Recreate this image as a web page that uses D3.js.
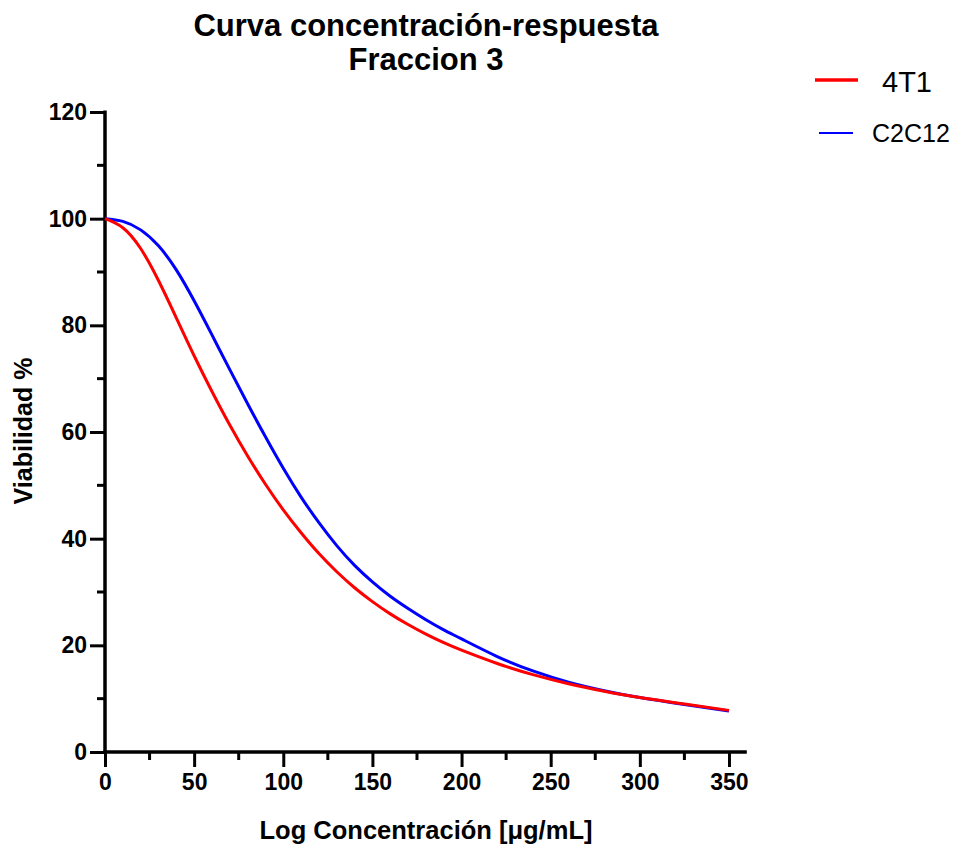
<!DOCTYPE html>
<html>
<head>
<meta charset="utf-8">
<script src="https://cdn.jsdelivr.net/npm/d3@7"></script>
<style>
  html, body { margin: 0; padding: 0; background: #fff; }
  svg { display: block; font-family: "Liberation Sans", Arial, Helvetica, sans-serif; }
</style>
</head>
<body>
<svg id="chart" width="961" height="848"></svg>
<script>
// Concentration values (x) and viability (%) for each cell line
const conc4T1 = [0, 10, 20, 30, 40, 50, 60, 70, 80, 90, 100, 110, 120, 130, 140, 150, 160, 170, 180, 190, 200, 220, 240, 260, 280, 300, 325, 350];
const viab4T1 = [100, 98.3, 94.4, 88.4, 81.4, 74.3, 67.6, 61.3, 55.5, 50.2, 45.4, 41.1, 37.2, 33.8, 30.8, 28.2, 25.9, 23.9, 22.1, 20.5, 19.1, 16.6, 14.5, 12.8, 11.4, 10.2, 9.0, 7.8];

const concC2C12 = [0, 10, 20, 30, 40, 50, 60, 70, 80, 90, 100, 110, 120, 130, 140, 150, 160, 170, 180, 190, 200, 220, 240, 260, 280, 300, 325, 350];
const viabC2C12 = [100, 99.5, 97.9, 94.9, 90.4, 84.6, 78.2, 71.7, 65.3, 59.1, 53.2, 47.8, 43.0, 38.7, 35.0, 31.9, 29.2, 26.9, 24.8, 22.9, 21.2, 17.9, 15.2, 13.1, 11.5, 10.2, 8.9, 7.7];

const seriesNames = ["4T1", "C2C12"];
const seriesColors = ["#ff0000", "#0000ff"];

const xTicks = [0, 50, 100, 150, 200, 250, 300, 350];
const xMinorTicks = [25, 75, 125, 175, 225, 275, 325];
const yTicks = [0, 20, 40, 60, 80, 100, 120];
const yMinorTicks = [10, 30, 50, 70, 90, 110];

const titleLines = ["Curva concentración-respuesta", "Fraccion 3"];
const xLabel = "Log Concentración [μg/mL]";
const yLabel = "Viabilidad %";

const svg = d3.select("#chart");

const x = d3.scaleLinear().domain([0, 360]).range([105, 746.8]);
const y = d3.scaleLinear().domain([0, 120]).range([752, 112]);

// Title
svg.append("g").selectAll("text")
  .data(titleLines)
  .join("text")
  .attr("x", 426)
  .attr("y", (d, i) => 36 + i * 34)
  .attr("text-anchor", "middle")
  .attr("font-weight", "bold")
  .attr("font-size", 31)
  .attr("fill", "#000")
  .text(d => d);

// Y axis
const yAxis = d3.axisLeft(y).tickValues(yTicks).tickSize(15).tickPadding(3).tickFormat(d3.format("d"));
const gy = svg.append("g").attr("transform", `translate(${x(0)},0)`).call(yAxis);
gy.select(".domain").attr("stroke", "#000").attr("stroke-width", 3.5)
  .attr("d", `M0,${y(120) - 1.5}V${y(0) + 1.5}`);
gy.selectAll(".tick line").attr("stroke", "#000").attr("stroke-width", 3);
gy.selectAll(".tick text").attr("font-size", 23).attr("font-weight", "bold").attr("fill", "#000")
  .attr("font-family", "'Liberation Sans', Arial, sans-serif");
svg.append("g").selectAll("line")
  .data(yMinorTicks)
  .join("line")
  .attr("x1", x(0) - 8).attr("x2", x(0))
  .attr("y1", d => y(d)).attr("y2", d => y(d))
  .attr("stroke", "#000").attr("stroke-width", 3);

// X axis
const xAxis = d3.axisBottom(x).tickValues(xTicks).tickSize(15).tickPadding(7).tickFormat(d3.format("d"));
const gx = svg.append("g").attr("transform", `translate(0,${y(0)})`).call(xAxis);
gx.select(".domain").attr("stroke", "#000").attr("stroke-width", 3.5)
  .attr("d", `M${x(0) - 1.5},0H${x(360)}`);
gx.selectAll(".tick line").attr("stroke", "#000").attr("stroke-width", 3);
gx.selectAll(".tick text").attr("font-size", 23).attr("font-weight", "bold").attr("fill", "#000")
  .attr("font-family", "'Liberation Sans', Arial, sans-serif");
svg.append("g").selectAll("line")
  .data(xMinorTicks)
  .join("line")
  .attr("x1", d => x(d)).attr("x2", d => x(d))
  .attr("y1", y(0)).attr("y2", y(0) + 8)
  .attr("stroke", "#000").attr("stroke-width", 3);

// Axis titles
svg.append("text")
  .attr("x", 426).attr("y", 839)
  .attr("text-anchor", "middle")
  .attr("font-weight", "bold").attr("font-size", 25.5)
  .text(xLabel);

svg.append("text")
  .attr("transform", "translate(32,431) rotate(-90)")
  .attr("text-anchor", "middle")
  .attr("font-weight", "bold").attr("font-size", 25)
  .text(yLabel);

// Fitted curves (smooth spline through the tabulated points)
const line = d3.line()
  .x(d => x(d[0]))
  .y(d => y(d[1]))
  .curve(d3.curveNatural);

const curves = [
  { name: seriesNames[1], color: seriesColors[1], pts: d3.zip(concC2C12, viabC2C12) },
  { name: seriesNames[0], color: seriesColors[0], pts: d3.zip(conc4T1, viab4T1) }
];

svg.append("g").selectAll("path")
  .data(curves)
  .join("path")
  .attr("fill", "none")
  .attr("stroke", d => d.color)
  .attr("stroke-width", 3)
  .attr("d", d => line(d.pts));

// Legend
const legend = [
  { name: seriesNames[0], color: seriesColors[0], x1: 815, x2: 858, y: 80, sw: 3.5, tx: 882, ty: 92, fs: 29 },
  { name: seriesNames[1], color: seriesColors[1], x1: 819, x2: 853, y: 133, sw: 2.2, tx: 872, ty: 142, fs: 25 }
];
const lg = svg.append("g").selectAll("g").data(legend).join("g");
lg.append("line")
  .attr("x1", d => d.x1).attr("x2", d => d.x2)
  .attr("y1", d => d.y).attr("y2", d => d.y)
  .attr("stroke", d => d.color).attr("stroke-width", d => d.sw);
lg.append("text")
  .attr("x", d => d.tx).attr("y", d => d.ty)
  .attr("font-size", d => d.fs)
  .attr("fill", "#000")
  .text(d => d.name);
</script>
</body>
</html>
